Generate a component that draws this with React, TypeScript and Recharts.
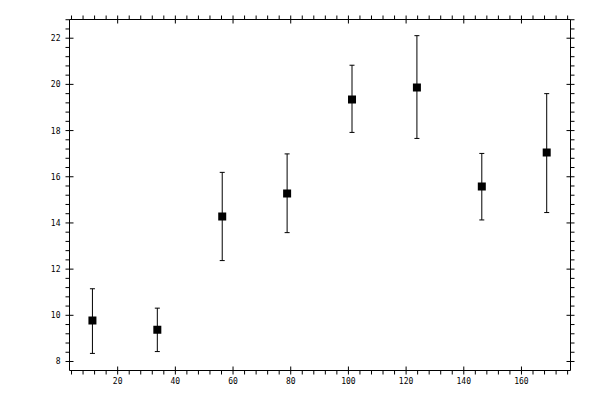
import { ScatterChart, Scatter, XAxis, YAxis, ZAxis, ErrorBar } from "recharts";

// measured values (x position, mean, lower and upper error limit)
const xValues = [11.25, 33.75, 56.25, 78.75, 101.25, 123.75, 146.25, 168.75];
const yValues = [9.77, 9.38, 14.28, 15.28, 19.35, 19.87, 15.58, 17.05];
const lowValues = [8.35, 8.43, 12.37, 13.58, 17.92, 17.66, 14.13, 14.45];
const highValues = [11.15, 10.31, 16.19, 16.99, 20.83, 22.11, 17.01, 19.6];

const xMajorTicks = [20, 40, 60, 80, 100, 120, 140, 160];
const yMajorTicks = [8, 10, 12, 14, 16, 18, 20, 22];

const X_DOMAIN: [number, number] = [3.3, 177];
const Y_DOMAIN: [number, number] = [7.61, 22.81];

const steps = (from: number, to: number, step: number) => {
  const out: number[] = [];
  for (let v = from; v <= to + 1e-9; v += step) out.push(Math.round(v * 100) / 100);
  return out;
};
const xAllTicks = steps(4, 176, 4);
const yAllTicks = steps(8, 22.8, 0.4);

const data = xValues.map((x, i) => ({
  x,
  y: yValues[i],
  err: [yValues[i] - lowValues[i], highValues[i] - yValues[i]],
}));

const FONT = "DejaVu Sans Mono";
const isMajor = (list: number[], v: number) => list.some((m) => Math.abs(m - v) < 1e-6);

const BottomTick = (props: any) => {
  const { x, y, payload } = props;
  const major = isMajor(xMajorTicks, payload.value);
  return (
    <g>
      <line x1={x} x2={x} y1={major ? y - 4 : y} y2={y + 4} stroke="#000" />
      {major && (
        <text x={x} y={y + 13.5} textAnchor="middle" fontSize={8} fontFamily={FONT} fill="#000">
          {payload.value}
        </text>
      )}
    </g>
  );
};

const TopTick = (props: any) => {
  const { x, y, payload } = props;
  const major = isMajor(xMajorTicks, payload.value);
  return <line x1={x} x2={x} y1={y - 4} y2={major ? y + 4 : y} stroke="#000" />;
};

const LeftTick = (props: any) => {
  const { x, y, payload } = props;
  const major = isMajor(yMajorTicks, payload.value);
  return (
    <g>
      <line x1={x - 4} x2={major ? x + 4 : x} y1={y} y2={y} stroke="#000" />
      {major && (
        <text x={x - 9} y={y + 3} textAnchor="end" fontSize={8} fontFamily={FONT} fill="#000">
          {payload.value}
        </text>
      )}
    </g>
  );
};

const RightTick = (props: any) => {
  const { x, y, payload } = props;
  const major = isMajor(yMajorTicks, payload.value);
  return <line x1={major ? x - 4 : x} x2={x + 4} y1={y} y2={y} stroke="#000" />;
};

export default function App() {
  return (
    <div style={{ position: "absolute", left: 0, top: 0, background: "#fff" }}>
      <ScatterChart width={600} height={400} margin={{ top: 18.5, right: 28.5, bottom: 0, left: 0 }}>
        <XAxis
          xAxisId={0}
          type="number"
          dataKey="x"
          domain={X_DOMAIN}
          allowDataOverflow
          ticks={xAllTicks}
          interval={0}
          height={29.5}
          tickSize={0}
          tickMargin={0}
          tickLine={false}
          axisLine={{ stroke: "#000" }}
          tick={<BottomTick />}
        />
        <XAxis
          xAxisId="top"
          orientation="top"
          type="number"
          dataKey="x"
          domain={X_DOMAIN}
          allowDataOverflow
          ticks={xAllTicks}
          interval={0}
          height={1}
          tickSize={0}
          tickMargin={0}
          tickLine={false}
          axisLine={{ stroke: "#000" }}
          tick={<TopTick />}
        />
        <YAxis
          yAxisId={0}
          type="number"
          dataKey="y"
          domain={Y_DOMAIN}
          allowDataOverflow
          ticks={yAllTicks}
          interval={0}
          width={69.5}
          tickSize={0}
          tickMargin={0}
          tickLine={false}
          axisLine={{ stroke: "#000" }}
          tick={<LeftTick />}
        />
        <YAxis
          yAxisId="right"
          orientation="right"
          type="number"
          dataKey="y"
          domain={Y_DOMAIN}
          allowDataOverflow
          ticks={yAllTicks}
          interval={0}
          width={1}
          tickSize={0}
          tickMargin={0}
          tickLine={false}
          axisLine={{ stroke: "#000" }}
          tick={<RightTick />}
        />
        <ZAxis range={[49, 49]} />
        <Scatter data={data} xAxisId={0} yAxisId={0} fill="#000" shape="square" isAnimationActive={false}>
          <ErrorBar dataKey="err" direction="y" width={2.5} stroke="#000" strokeWidth={1} />
        </Scatter>
        {/* invisible series so the top and right axes are in use */}
        <Scatter data={data} xAxisId="top" yAxisId="right" fill="none" shape={() => null} isAnimationActive={false} />
      </ScatterChart>
    </div>
  );
}
